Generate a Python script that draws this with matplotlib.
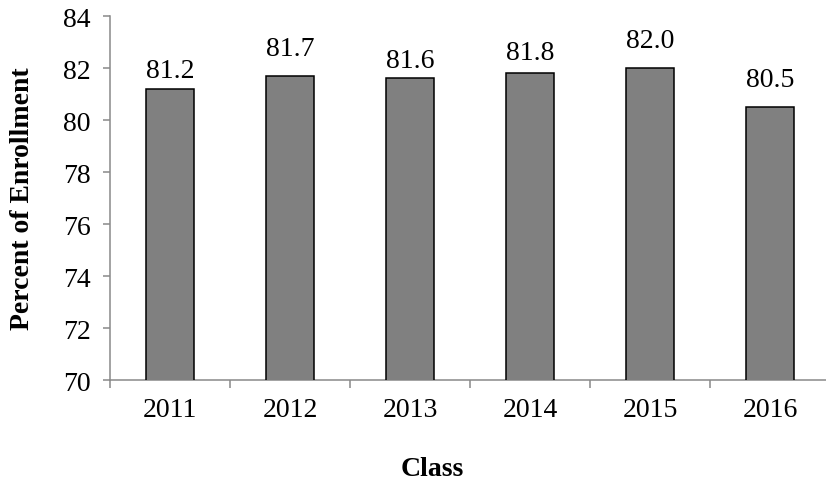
import numpy as np
import matplotlib
matplotlib.use("Agg")
import matplotlib.pyplot as plt
from matplotlib.ticker import FixedLocator, NullFormatter

# data
classes = ['2011', '2012', '2013', '2014', '2015', '2016']
percent = [81.2, 81.7, 81.6, 81.8, 82.0, 80.5]
y_ticks = [70, 72, 74, 76, 78, 80, 82, 84]

# label offsets above the bars (points) - labels were nudged by hand in the original
label_offsets = [4, 10.5, 4, 6, 11, 11]

plt.rcParams['font.family'] = ['Liberation Serif', 'DejaVu Serif']

fig = plt.figure(figsize=(8.26, 4.85), dpi=100)
ax = fig.add_axes([110 / 826, 104 / 485, 720 / 826, 364 / 485])

x = np.arange(len(classes))
bars = ax.bar(x, percent, width=0.4, color='#808080', edgecolor='black', linewidth=1.1, zorder=3)

for xi, val, off in zip(x, percent, label_offsets):
    ax.annotate(f'{val:.1f}', (xi, val), xytext=(0, off), textcoords='offset points',
                ha='center', va='bottom', fontsize=20)

ax.set_ylim(70, 84)
ax.set_xlim(-0.5, len(classes) - 0.5)
ax.set_yticks(y_ticks)
ax.set_yticklabels([str(t) for t in y_ticks], fontsize=20)

# ticks between the categories, labels at the centres
ax.xaxis.set_major_locator(FixedLocator(np.arange(len(classes) + 1) - 0.5))
ax.xaxis.set_major_formatter(NullFormatter())
ax.set_xticks(x, minor=True)
ax.set_xticklabels(classes, minor=True, fontsize=20)
ax.tick_params(axis='x', which='minor', length=0, pad=12)
ax.tick_params(axis='x', which='major', length=6, width=1.1, color='#898989')
ax.tick_params(axis='y', length=5, width=1.1, color='#898989', pad=9)

for side in ['top', 'right']:
    ax.spines[side].set_visible(False)
for side in ['left', 'bottom']:
    ax.spines[side].set_color('#898989')
    ax.spines[side].set_linewidth(1.1)

ax.set_ylabel('Percent of Enrollment', fontsize=20, fontweight='bold', va='center')
ax.set_xlabel('Class', fontsize=20, fontweight='bold', va='center')
ax.yaxis.set_label_coords(-0.122, 0.5)
ax.xaxis.set_label_coords(0.447, -0.242)

fig.savefig('out.png', dpi=100)
